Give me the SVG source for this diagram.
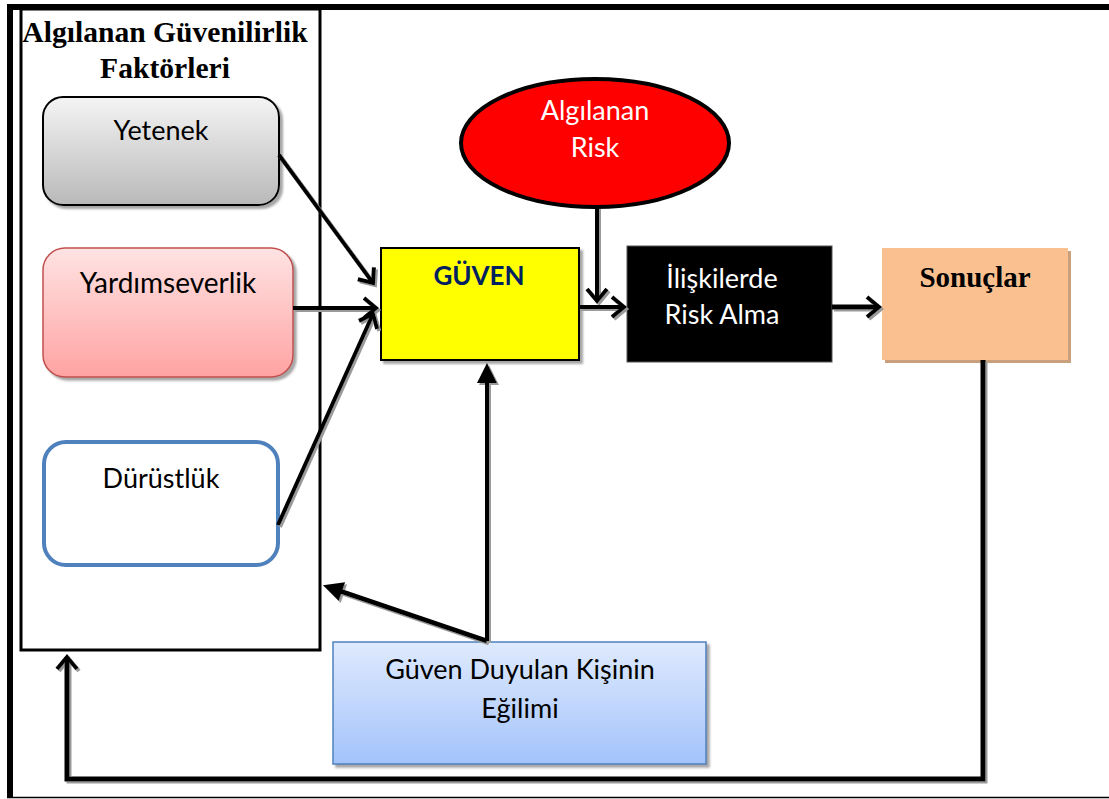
<svg xmlns="http://www.w3.org/2000/svg" width="1109" height="799" viewBox="0 0 1109 799">
  <defs>
    <style>
      .sans { font-family: Lato, "Noto Sans", sans-serif; font-size: 27px; fill: #000; text-anchor: middle; }
      .serifb { font-family: "Liberation Serif", "Times New Roman", serif; font-weight: bold; font-size: 29px; fill: #000; text-anchor: middle; }
      .title { font-size: 29.6px; }
      .white { fill: #fff; }
      .conn { fill: none; stroke: #000; stroke-width: 4; }
      .thick { stroke-width: 5; }
    </style>
    <linearGradient id="gGrey" x1="0" y1="0" x2="0" y2="1">
      <stop offset="0" stop-color="#f4f4f4"/>
      <stop offset="1" stop-color="#b9b9b9"/>
    </linearGradient>
    <linearGradient id="gRed" x1="0" y1="0" x2="0" y2="1">
      <stop offset="0" stop-color="#ffe3e3"/>
      <stop offset="1" stop-color="#ffa3a3"/>
    </linearGradient>
    <linearGradient id="gBlue" x1="0" y1="0" x2="0" y2="1">
      <stop offset="0" stop-color="#dfeafd"/>
      <stop offset="1" stop-color="#a3c3fb"/>
    </linearGradient>
    <!-- soft box shadow -->
    <filter id="boxShadow" x="-10%" y="-10%" width="125%" height="130%">
      <feGaussianBlur in="SourceAlpha" stdDeviation="1"/>
      <feOffset dx="3" dy="3" result="b"/>
      <feFlood flood-color="#808080" flood-opacity="0.7"/>
      <feComposite in2="b" operator="in"/>
      <feMerge><feMergeNode/><feMergeNode in="SourceGraphic"/></feMerge>
    </filter>
    <!-- hard grey shadow for connectors (user space so straight lines keep it) -->
    <filter id="lineShadow" filterUnits="userSpaceOnUse" x="0" y="0" width="1109" height="799">
      <feOffset in="SourceAlpha" dx="2" dy="2" result="o"/>
      <feFlood flood-color="#9a9a9a"/>
      <feComposite in2="o" operator="in"/>
      <feMerge><feMergeNode/><feMergeNode in="SourceGraphic"/></feMerge>
    </filter>
    <marker id="chev" markerUnits="userSpaceOnUse" viewBox="-20 -15 26 30" markerWidth="26" markerHeight="30" refX="0" refY="0" orient="auto">
      <path d="M-12,-10 L0,0 L-12,10" fill="none" stroke="#000" stroke-width="4"/>
    </marker>
    <marker id="tri" markerUnits="userSpaceOnUse" viewBox="-4 -12 26 24" markerWidth="26" markerHeight="24" refX="0" refY="0" orient="auto">
      <path d="M-2,-10 L18,0 L-2,10 Z" fill="#000"/>
    </marker>
  </defs>

  <rect width="1109" height="799" fill="#fff"/>

  <!-- page frame -->
  <g id="frame">
    <rect x="7" y="4" width="1102" height="6" fill="#000"/>
    <rect x="7" y="4" width="6" height="794" fill="#000"/>
    <line x1="7" y1="797.5" x2="1109" y2="797.5" stroke="#000" stroke-width="1.5"/>
  </g>

  <!-- factor panel -->
  <g id="factors">
    <rect x="21" y="9" width="299" height="641" fill="none" stroke="#000" stroke-width="3"/>
    <text class="serifb title" x="165" y="42">Algılanan Güvenilirlik</text>
    <text class="serifb title" x="165" y="78">Faktörleri</text>
  </g>

  <g id="yetenek">
    <rect x="43" y="97" width="236" height="108" rx="20" fill="url(#gGrey)" stroke="#000" stroke-width="2" filter="url(#boxShadow)"/>
    <text class="sans" x="161" y="140">Yetenek</text>
  </g>

  <g id="yardimseverlik">
    <rect x="43" y="248" width="250" height="129" rx="22" fill="url(#gRed)" stroke="#c0504d" stroke-width="1.5" filter="url(#boxShadow)"/>
    <text class="sans" x="168" y="293" style="font-size:28px">Yardımseverlik</text>
  </g>

  <g id="durustluk">
    <rect x="44" y="442" width="234" height="123" rx="22" fill="#fff" stroke="#4f81bd" stroke-width="4"/>
    <text class="sans" x="161" y="488">Dürüstlük</text>
  </g>

  <g id="guven">
    <rect x="381" y="248" width="198" height="112" fill="#ffff00" stroke="#000" stroke-width="2" filter="url(#boxShadow)"/>
    <text class="sans" x="479" y="285" font-weight="bold" style="fill:#002060;font-size:26px">GÜVEN</text>
  </g>

  <g id="algilanan-risk">
    <ellipse cx="595" cy="143" rx="134" ry="64" fill="#ff0000" stroke="#000" stroke-width="4"/>
    <text class="sans white" x="595" y="120">Algılanan</text>
    <text class="sans white" x="595" y="157">Risk</text>
  </g>

  <g id="risk-alma">
    <rect x="627" y="246" width="205" height="116" fill="#000" stroke="#555" stroke-width="1"/>
    <text class="sans white" x="722" y="288">İlişkilerde</text>
    <text class="sans white" x="722" y="324">Risk Alma</text>
  </g>

  <g id="sonuclar">
    <rect x="885" y="251" width="186" height="112" fill="#c9a07e"/>
    <rect x="882" y="248" width="186" height="112" fill="#fac090"/>
    <text class="serifb" x="975" y="287">Sonuçlar</text>
  </g>

  <g id="egilim">
    <rect x="333" y="642" width="373" height="122" fill="url(#gBlue)" stroke="#4f81bd" stroke-width="1.5" filter="url(#boxShadow)"/>
    <text class="sans" x="520" y="679">Güven Duyulan Kişinin</text>
    <text class="sans" x="520" y="718">Eğilimi</text>
  </g>

  <!-- connectors -->
  <g id="connectors" filter="url(#lineShadow)">
    <path class="conn" d="M279,155 L373,283" marker-end="url(#chev)"/>
    <path class="conn" d="M293,308 L376,308" marker-end="url(#chev)"/>
    <path class="conn" d="M278,525 L373,314" marker-end="url(#chev)"/>
    <path class="conn" d="M597,207 L597,301" marker-end="url(#chev)"/>
    <path class="conn" d="M579,307 L624,307" marker-end="url(#chev)"/>
    <path class="conn thick" d="M832,307 L879,307" marker-end="url(#chev)"/>
    <path class="conn thick" d="M983,360 L983,779 L67,779 L67,657" marker-end="url(#chev)"/>
    <path class="conn" d="M487,641 L487,381" marker-end="url(#tri)"/>
    <path class="conn thick" d="M487,641 L340,591" marker-end="url(#tri)"/>
  </g>
</svg>
